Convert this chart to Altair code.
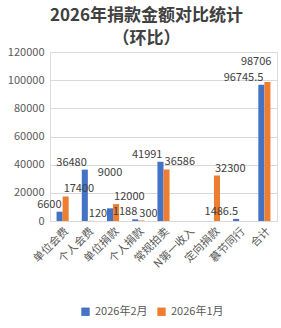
import altair as alt
import pandas as pd

categories = ["单位会费", "个人会费", "单位捐款", "个人捐款", "常规拍卖", "N第一收入", "定向捐款", "慕节同行", "合计"]
series = ["2026年2月", "2026年1月"]
feb = [6600, 36480, 9000, 1188, 41991, None, None, 1486.5, 96745.5]
jan = [17400, 120, 12000, 300, 36586, None, 32300, None, 98706]
y_ticks = [0, 20000, 40000, 60000, 80000, 100000, 120000]

rows = []
for c, v in zip(categories, feb):
    rows.append({"cat": c, "series": series[0], "value": v})
for c, v in zip(categories, jan):
    rows.append({"cat": c, "series": series[1], "value": v})
df = pd.DataFrame(rows)
df["label"] = df["value"].apply(lambda v: "" if pd.isna(v) else (f"{v:g}"))

FONT = "Noto Sans CJK SC"
colors = ["#4472C4", "#ED7D31"]
last = categories[-1]
raised_feb = categories[2]

base = alt.Chart(df).encode(
    x=alt.X("cat:N", sort=categories, title=None,
            scale=alt.Scale(paddingInner=0.52, paddingOuter=0.26),
            axis=alt.Axis(labelAngle=-45, labelFont=FONT, labelFontSize=11,
                          labelColor="#595959", domainColor="#D9D9D9", ticks=False,
                          labelPadding=4, labelLimit=0)),
    xOffset=alt.XOffset("series:N", sort=series),
    y=alt.Y("value:Q", title=None,
            scale=alt.Scale(domain=[0, 120000], nice=False),
            axis=alt.Axis(values=y_ticks, format="d", labelFont=FONT, labelFontSize=11,
                          labelColor="#595959", domain=False, ticks=False,
                          gridColor="#D9D9D9", labelPadding=6)),
)

bars = base.mark_bar().encode(
    color=alt.Color("series:N", sort=series,
                    scale=alt.Scale(domain=series, range=colors),
                    legend=alt.Legend(title=None, orient="none", legendX=30, legendY=254,
                                      direction="horizontal",
                                      symbolType="square", symbolSize=70,
                                      labelFont=FONT, labelFontSize=11, labelColor="#595959",
                                      columnPadding=8))
)

text_style = dict(baseline="bottom", font=FONT, fontSize=11, color="#404040")

labels_feb = base.mark_text(align="right", dx=2, dy=-2, **text_style).encode(
    text="label:N"
).transform_filter((alt.datum.series == series[0]) & (alt.datum.cat != raised_feb))

labels_feb_raised = base.mark_text(align="center", dx=0, dy=-30, **text_style).encode(
    text="label:N"
).transform_filter((alt.datum.series == series[0]) & (alt.datum.cat == raised_feb))

labels_jan = base.mark_text(align="left", dx=-2, dy=-2, **text_style).encode(
    text="label:N"
).transform_filter((alt.datum.series == series[1]) & (alt.datum.cat != last))

labels_jan_total = base.mark_text(align="right", dx=4, dy=-15, **text_style).encode(
    text="label:N"
).transform_filter((alt.datum.series == series[1]) & (alt.datum.cat == last))

chart = (bars + labels_feb + labels_feb_raised + labels_jan + labels_jan_total).properties(
    width=227, height=169,
    title=alt.TitleParams(["2026年捐款金额对比统计", "（环比）"], font=FONT, fontSize=17,
                          fontWeight="bold", color="#404040", anchor="middle", offset=6,
                          lineHeight=23, dx=-17, dy=8, frame="group"),
    autosize=alt.AutoSizeParams(type="none"),
    padding={"left": 50, "top": 52, "right": 4, "bottom": 107},
).configure_view(stroke=None).configure(background="white")

chart.save("out.html", embed_options={"renderer": "svg", "actions": False})
